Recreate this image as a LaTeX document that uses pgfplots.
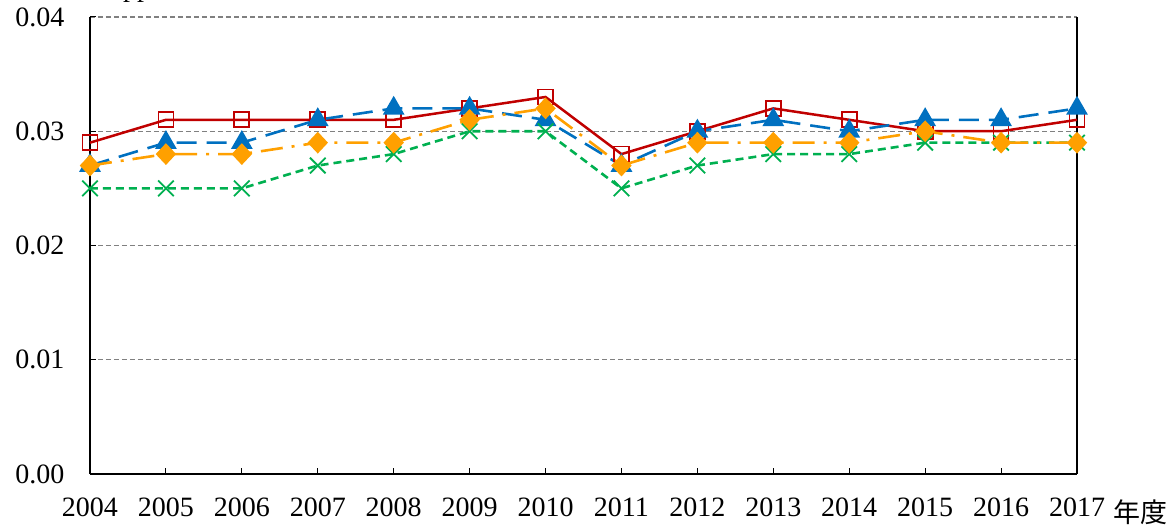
\documentclass[border=0pt]{standalone}
\usepackage{pgfplots}
\pgfplotsset{compat=1.18}
\usepackage{fontspec}
\setmainfont{Liberation Serif}
\newfontfamily\cjk{Noto Sans CJK JP}
\definecolor{cred}{RGB}{192,0,0}
\definecolor{cblue}{RGB}{0,112,192}
\definecolor{corange}{RGB}{255,160,0}
\definecolor{cgreen}{RGB}{0,176,80}
\begin{document}
\begin{tikzpicture}[x=1pt,y=1pt]
\useasboundingbox (-90,-55) rectangle (1081,474);
\begin{axis}[
  at={(0,0)}, anchor=south west,
  scale only axis, width=987pt, height=457pt,
  xmin=2004, xmax=2017, ymin=0, ymax=0.04,
  xtick={2004,2005,2006,2007,2008,2009,2010,2011,2012,2013,2014,2015,2016,2017},
  xticklabels={2004,2005,2006,2007,2008,2009,2010,2011,2012,2013,2014,2015,2016,2017},
  ytick={0,0.01,0.02,0.03,0.04},
  yticklabels={0.00,0.01,0.02,0.03,0.04},
  scaled y ticks=false, scaled x ticks=false,
  axis x line*=bottom, axis y line*=box,
  xtick pos=bottom, ytick pos=left,
  tick align=inside,
  major tick length=6pt,
  tick style={black, line width=1pt},
  axis line style={black, line width=1.2pt},
  ymajorgrids,
  major grid style={gray, dash pattern=on 5pt off 3pt, line width=1.3pt},
  ticklabel style={font=\fontsize{28}{32}\selectfont},
  xticklabel style={yshift=-20pt},
  yticklabel style={xshift=-22pt},
  clip=false,
]
\addplot[color=cred, line width=2.5pt, mark=square, mark size=7.5pt, mark options={solid, fill=white, line width=1.8pt}] coordinates {
(2004,0.029) (2005,0.031) (2006,0.031) (2007,0.031) (2008,0.031) (2009,0.032) (2010,0.033)
(2011,0.028) (2012,0.030) (2013,0.032) (2014,0.031) (2015,0.030) (2016,0.030) (2017,0.031)};
\addplot[color=cblue, line width=2.6pt, dash pattern=on 20pt off 10pt, mark=triangle*, mark size=10pt, mark options={solid}] coordinates {
(2004,0.027) (2005,0.029) (2006,0.029) (2007,0.031) (2008,0.032) (2009,0.032) (2010,0.031)
(2011,0.027) (2012,0.030) (2013,0.031) (2014,0.030) (2015,0.031) (2016,0.031) (2017,0.032)};
\addplot[color=cgreen, line width=2.6pt, dash pattern=on 8pt off 5pt, mark=x, mark size=11pt, mark options={solid, line width=1.8pt}] coordinates {
(2004,0.025) (2005,0.025) (2006,0.025) (2007,0.027) (2008,0.028) (2009,0.030) (2010,0.030)
(2011,0.025) (2012,0.027) (2013,0.028) (2014,0.028) (2015,0.029) (2016,0.029) (2017,0.029)};
\addplot[color=corange, line width=2.6pt, dash pattern=on 22pt off 9pt on 3pt off 9pt, mark=diamond*, mark size=9pt, mark options={solid, xscale=1.25}] coordinates {
(2004,0.027) (2005,0.028) (2006,0.028) (2007,0.029) (2008,0.029) (2009,0.031) (2010,0.032)
(2011,0.027) (2012,0.029) (2013,0.029) (2014,0.029) (2015,0.030) (2016,0.029) (2017,0.029)};
\end{axis}
\node[anchor=base west, font=\fontsize{28}{32}\selectfont, inner sep=0pt] at (33,477) {ppm};
\node[anchor=base, font=\cjk\fontsize{27}{30}\selectfont, inner sep=0pt] at (1050,-49) {年度};
\end{tikzpicture}
\end{document}
